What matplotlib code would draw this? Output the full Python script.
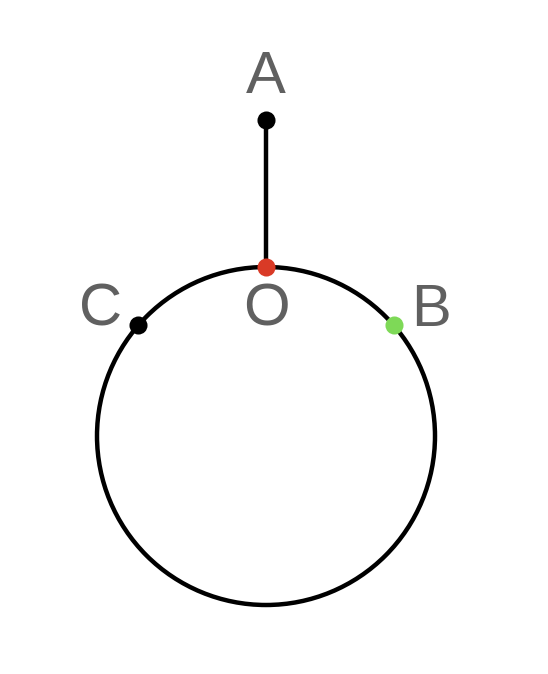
import numpy as np
import matplotlib.pyplot as plt
from matplotlib.patches import Circle

# === geometry (pixel coordinates of the reference) ===
center = (266, 436)
radius = 169
apex = (266, 120)

# points on the circle, angle in degrees (0 = right, counter-clockwise)
circle_names = ['O', 'B', 'C']
circle_angles = [90, 41, 139]
circle_colors = ['#d93a26', '#7ed957', '#000000']

# label positions (centre x, baseline y)
label_names = ['A', 'O', 'B', 'C']
label_x = [266, 266, 431, 101]
label_y = [93, 326, 326, 326]

fig = plt.figure(figsize=(5.48, 6.74), dpi=100)
ax = fig.add_axes([0, 0, 1, 1])
ax.set_xlim(0, 548)
ax.set_ylim(674, 0)
ax.set_aspect('equal')
ax.axis('off')

lw = 3.2
ax.add_patch(Circle(center, radius, fill=False, edgecolor='black', lw=lw, zorder=1))

ang = np.radians(circle_angles)
px = center[0] + radius * np.cos(ang)
py = center[1] - radius * np.sin(ang)

# segment A-O
ax.plot([apex[0], px[0]], [apex[1], py[0]], color='black', lw=lw, zorder=1)

ax.plot(apex[0], apex[1], 'o', color='black', ms=13, mec='none', zorder=3)
for x, y, c in zip(px, py, circle_colors):
    ax.plot(x, y, 'o', color=c, ms=13, mec='none', zorder=3)

for name, x, y in zip(label_names, label_x, label_y):
    ax.text(x, y, name, fontsize=43, family='Liberation Sans', color='#606060',
            ha='center', va='baseline')

fig.savefig('out.png', dpi=100)
